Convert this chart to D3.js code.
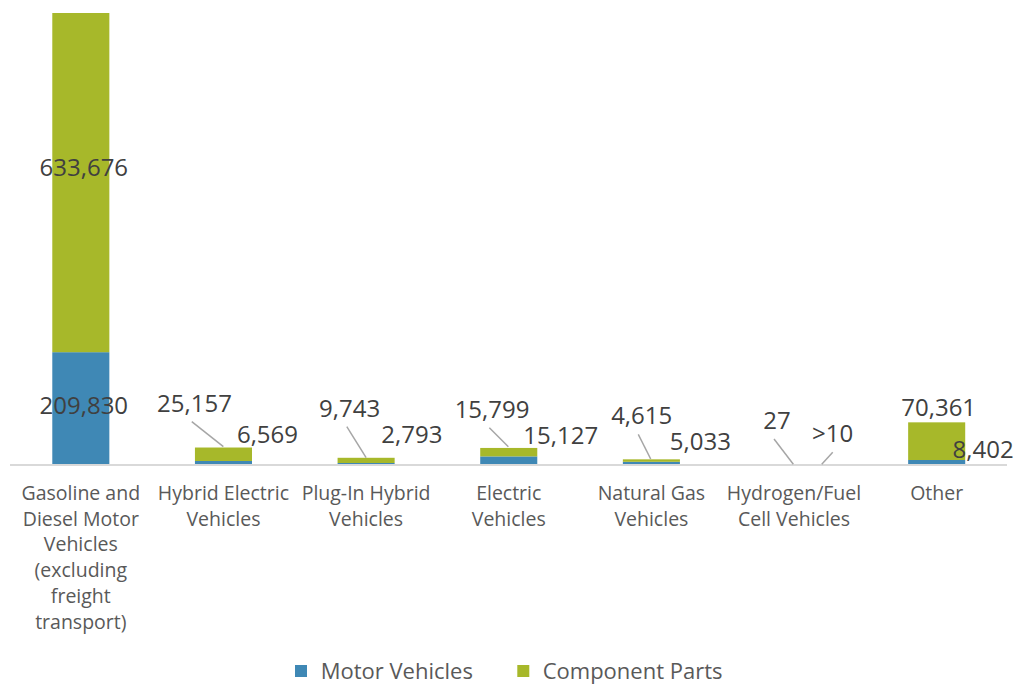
<!DOCTYPE html>
<html>
<head>
<meta charset="utf-8">
<script src="https://cdn.jsdelivr.net/npm/d3@7"></script>
<style>
  html, body { margin: 0; padding: 0; background: #ffffff; }
  svg { display: block; }
  text { font-family: "Open Sans", "DejaVu Sans", sans-serif; font-weight: 500; }
</style>
</head>
<body>
<svg id="chart" width="1017" height="684"></svg>
<script>
// ---- data ----
const categories = [
  ["Gasoline and", "Diesel Motor", "Vehicles", "(excluding", "freight", "transport)"],
  ["Hybrid Electric", "Vehicles"],
  ["Plug-In Hybrid", "Vehicles"],
  ["Electric", "Vehicles"],
  ["Natural Gas", "Vehicles"],
  ["Hydrogen/Fuel", "Cell Vehicles"],
  ["Other"]
];
const motorVehicles  = [209830, 6569, 2793, 15127, 5033, 10, 8402];
const componentParts = [633676, 25157, 9743, 15799, 4615, 27, 70361];
const motorLabels     = ["209,830", "6,569", "2,793", "15,127", "5,033", ">10", "8,402"];
const componentLabels = ["633,676", "25,157", "9,743", "15,799", "4,615", "27", "70,361"];
const seriesNames = ["Motor Vehicles", "Component Parts"];

// ---- layout (label placement relative to band centre) ----
const compLabelPos  = [[3, 176], [-29, 411.7], [-16.5, 416.7], [-16.7, 418.3], [-9.7, 424], [-17, 429.3], [2, 415.7]];
const motorLabelPos = [[3, 414], [44, 443.3], [45.7, 443.3], [52, 444], [49, 450], [38.5, 442.3], [46.5, 458.3]];
// leader lines: [dx1, y1, dx2, y2] relative to band centre, null = none
const compLeaders = [null, [-31.7, 421.7, -0.1, 446.7], [-19.3, 426.7, 0, 457.7], [-19.4, 427.7, -0.4, 446.7], [-13.1, 434.3, -0.7, 459], [-20, 439, -0.7, 464.3], null];
const motorLeaders = [null, null, null, null, null, [38.7, 452.3, 27.7, 464.3], null];

const colors = ["#3f88b5", "#a7b82a"];

const svg = d3.select("#chart");
const baseline = 464.5;

const x = d3.scaleBand()
  .domain(d3.range(categories.length))
  .range([9.5, 1008])
  .paddingInner(0.6)
  .paddingOuter(0.3);

const totals = motorVehicles.map((m, i) => m + componentParts[i]);
const y = d3.scaleLinear()
  .domain([0, d3.max(totals)])
  .range([baseline, 13]);

const rows = categories.map((c, i) => ({ i, motor: motorVehicles[i], comp: componentParts[i] }));
const stack = d3.stack().keys(["motor", "comp"]);
const series = stack(rows);

svg.append("g")
  .selectAll("g")
  .data(series)
  .join("g")
  .attr("fill", (d, k) => colors[k])
  .selectAll("rect")
  .data(d => d)
  .join("rect")
  .attr("x", d => x(d.data.i))
  .attr("width", x.bandwidth())
  .attr("y", d => y(d[1]))
  .attr("height", d => Math.max(0, y(d[0]) - y(d[1])));

// baseline axis
svg.append("line")
  .attr("x1", 10).attr("x2", 1007)
  .attr("y1", baseline + 0.5).attr("y2", baseline + 0.5)
  .attr("stroke", "#d9d9d9").attr("stroke-width", 2);

// category labels
const cx = i => x(i) + x.bandwidth() / 2;
const catG = svg.append("g");
categories.forEach((lines, i) => {
  const t = catG.append("text")
    .attr("x", cx(i))
    .attr("y", 500)
    .attr("text-anchor", "middle")
    .attr("font-size", 19.5)
    .attr("fill", "#595959");
  lines.forEach((l, j) => {
    t.append("tspan").attr("x", cx(i)).attr("y", 500 + j * 25.7).text(l);
  });
});

// leader lines
const leaderG = svg.append("g").attr("stroke", "#a6a6a6").attr("stroke-width", 1.5);
[compLeaders, motorLeaders].forEach(arr => {
  arr.forEach((l, i) => {
    if (!l) return;
    leaderG.append("line")
      .attr("x1", cx(i) + l[0]).attr("y1", l[1])
      .attr("x2", cx(i) + l[2]).attr("y2", l[3]);
  });
});

// data labels
const lblG = svg.append("g")
  .attr("font-size", 24)
  .attr("fill", "#404040")
  .attr("text-anchor", "middle");
componentLabels.forEach((s, i) => {
  lblG.append("text").attr("x", cx(i) + compLabelPos[i][0]).attr("y", compLabelPos[i][1]).text(s);
});
motorLabels.forEach((s, i) => {
  lblG.append("text").attr("x", cx(i) + motorLabelPos[i][0]).attr("y", motorLabelPos[i][1]).text(s);
});

// legend
const legendPos = [[295, 320.7], [517.3, 542.7]];
const lg = svg.append("g");
seriesNames.forEach((n, k) => {
  lg.append("rect").attr("x", legendPos[k][0]).attr("y", 665).attr("width", 12).attr("height", 12).attr("fill", colors[k]);
  lg.append("text").attr("x", legendPos[k][1]).attr("y", 679).attr("font-size", 22).attr("fill", "#595959").text(n);
});
</script>
</body>
</html>
